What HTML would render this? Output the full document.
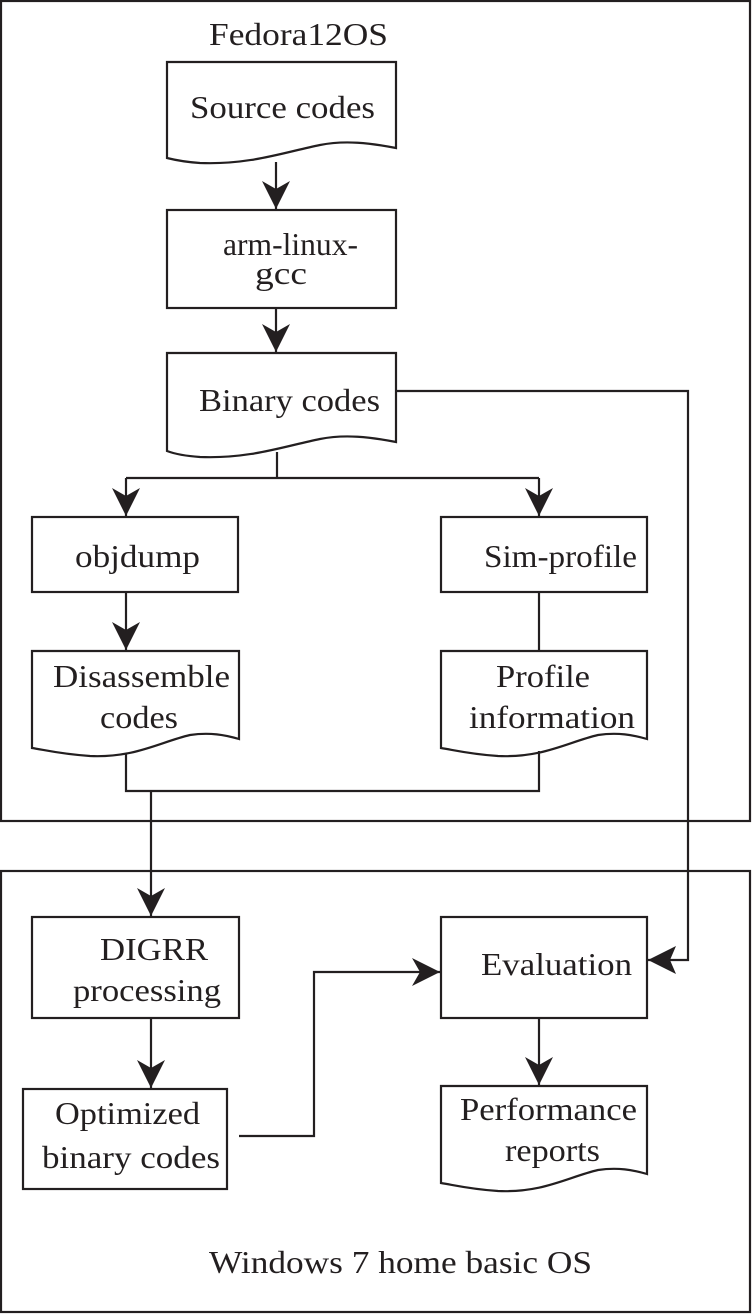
<!DOCTYPE html>
<html><head><meta charset="utf-8"><style>html,body{margin:0;padding:0;background:#fff}svg{display:block}text{font-family:"Liberation Serif",serif}</style></head>
<body>
<svg width="752" height="1314" viewBox="0 0 752 1314" xmlns="http://www.w3.org/2000/svg">
<defs>
<marker id="a" markerWidth="30" markerHeight="30" refX="28" refY="14" orient="auto" markerUnits="userSpaceOnUse">
<path d="M0,0 L28,14 L0,28 L8,14 Z" fill="#231f20"/>
</marker>
<marker id="b" markerWidth="30" markerHeight="30" refX="28" refY="14" orient="auto" markerUnits="userSpaceOnUse">
<path d="M0,0 L28,14 L0,28 L6,14 Z" fill="#231f20"/>
</marker>
</defs>
<g fill="none" stroke="#231f20" stroke-width="2.2">
<rect x="1" y="1" width="749" height="820"/>
<rect x="1" y="871" width="749" height="441"/>
<path d="M167,62 H396 V148 C370,143 345,140 320,145 C285,152 250,165 200,163 C185,162 175,160 167,158 Z"/>
<rect x="167" y="210" width="229" height="98"/>
<path d="M167,353 H396 V442 C370,437 345,434 320,439 C285,446 250,459 200,457 C185,456 175,454 167,451 Z"/>
<rect x="32" y="517" width="206" height="75"/>
<rect x="441" y="517" width="206" height="75"/>
<path d="M32,651 H239 V739 C225,735 210,732 190,735 C160,742 135,758 90,756 C60,754 45,750 32,748 Z"/>
<path d="M441,651 H647 V739 C633,735 618,732 598,735 C568,742 543,758 498,756 C469,754 454,750 441,748 Z"/>
<rect x="32" y="917" width="207" height="101"/>
<rect x="441" y="917" width="206" height="101"/>
<rect x="23" y="1089" width="204" height="100"/>
<path d="M441,1086 H647 V1174 C633,1170 618,1167 598,1170 C568,1177 543,1193 498,1191 C469,1189 454,1185 441,1183 Z"/>
<path d="M276,162 V209" marker-end="url(#a)"/>
<path d="M276,308 V352" marker-end="url(#a)"/>
<path d="M277,452 V478 M126,478 H539"/>
<path d="M126,478 V516" marker-end="url(#a)"/>
<path d="M539,478 V516" marker-end="url(#a)"/>
<path d="M126,592 V650" marker-end="url(#a)"/>
<path d="M539,592 V651"/>
<path d="M126,754 V791 H539 V751"/>
<path d="M151,791 V916" marker-end="url(#a)"/>
<path d="M396,391 H688 V960 H648" marker-end="url(#b)"/>
<path d="M151,1018 V1088" marker-end="url(#a)"/>
<path d="M539,1018 V1085" marker-end="url(#a)"/>
<path d="M239,1136 H314 V972 H440" marker-end="url(#a)"/>
</g>
<g font-size="32" fill="#231f20">
<text x="209" y="45" textLength="179" lengthAdjust="spacingAndGlyphs">Fedora12OS</text>
<text x="190" y="118" textLength="185" lengthAdjust="spacingAndGlyphs">Source codes</text>
<text x="223" y="255" textLength="135" lengthAdjust="spacingAndGlyphs">arm-linux-</text>
<text x="255" y="284" textLength="52" lengthAdjust="spacingAndGlyphs">gcc</text>
<text x="199" y="411" textLength="181" lengthAdjust="spacingAndGlyphs">Binary codes</text>
<text x="75" y="567" textLength="125" lengthAdjust="spacingAndGlyphs">objdump</text>
<text x="484" y="567" textLength="153" lengthAdjust="spacingAndGlyphs">Sim-profile</text>
<text x="53" y="687" textLength="177" lengthAdjust="spacingAndGlyphs">Disassemble</text>
<text x="100" y="728" textLength="78" lengthAdjust="spacingAndGlyphs">codes</text>
<text x="496" y="687" textLength="94" lengthAdjust="spacingAndGlyphs">Profile</text>
<text x="469" y="728" textLength="166" lengthAdjust="spacingAndGlyphs">information</text>
<text x="100" y="960" textLength="108" lengthAdjust="spacingAndGlyphs">DIGRR</text>
<text x="73" y="1001" textLength="148" lengthAdjust="spacingAndGlyphs">processing</text>
<text x="481" y="975" textLength="151" lengthAdjust="spacingAndGlyphs">Evaluation</text>
<text x="55" y="1124" textLength="145" lengthAdjust="spacingAndGlyphs">Optimized</text>
<text x="42" y="1168" textLength="178" lengthAdjust="spacingAndGlyphs">binary codes</text>
<text x="460" y="1120" textLength="177" lengthAdjust="spacingAndGlyphs">Performance</text>
<text x="505" y="1161" textLength="95" lengthAdjust="spacingAndGlyphs">reports</text>
<text x="209" y="1273" textLength="383" lengthAdjust="spacingAndGlyphs">Windows 7 home basic OS</text>
</g>
</svg>
</body></html>
